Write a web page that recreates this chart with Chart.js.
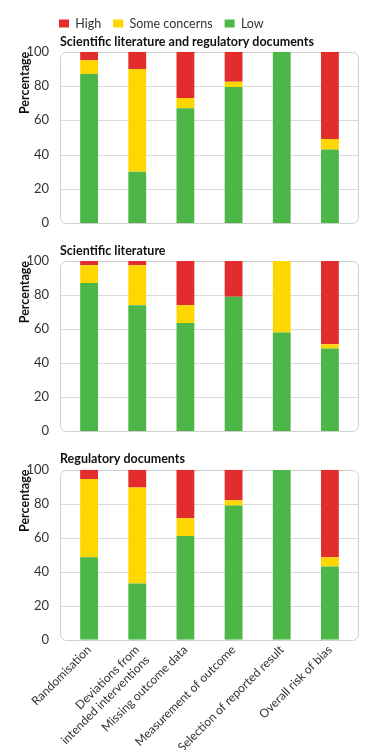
<!DOCTYPE html>
<html><head><meta charset="utf-8">
<script src="https://cdn.jsdelivr.net/npm/chart.js@4.4.1/dist/chart.umd.min.js"></script>
<style>
html,body{margin:0;padding:0;background:#fff;}
body{width:391px;height:750px;position:relative;overflow:hidden;}
.p{position:absolute;left:0;width:391px;}
</style></head><body>
<div class="p" style="top:0;height:240px"><canvas id="c1"></canvas></div>
<div class="p" style="top:232px;height:216px"><canvas id="c2"></canvas></div>
<div class="p" style="top:440px;height:310px"><canvas id="c3"></canvas></div>
<script>
const categories = ['Randomisation', ['Deviations from', 'intended interventions'], 'Missing outcome data', 'Measurement of outcome', 'Selection of reported result', 'Overall risk of bias'];
const seriesNames = ['Low', 'Some concerns', 'High'];
const seriesColors = ['#4cb748', '#fed700', '#e32c2c'];
const yTicks = [0, 20, 40, 60, 80, 100];
const panelTitles = ['Scientific literature and regulatory documents', 'Scientific literature', 'Regulatory documents'];

const combinedLow  = [87, 30, 67, 79.5, 100, 43];
const combinedSome = [8, 60, 6, 3, 0, 6];
const combinedHigh = [5, 10, 27, 17.5, 0, 51];

const literatureLow  = [87, 74, 63.5, 79, 58, 48.5];
const literatureSome = [10.5, 23.5, 10.5, 0, 42, 2.5];
const literatureHigh = [2.5, 2.5, 26, 21, 0, 49];

const regulatoryLow  = [48.5, 33, 61, 79, 100, 43];
const regulatorySome = [46, 56.5, 10.5, 3, 0, 5.5];
const regulatoryHigh = [5.5, 10.5, 28.5, 18, 0, 51.5];

const FONT = 'Lato, "Open Sans", sans-serif';
Chart.defaults.font.family = FONT;
Chart.defaults.color = '#333';

const framePlugin = {
  id: 'frame',
  beforeDatasetsDraw(chart) {
    const {ctx, chartArea: a, scales: {y}} = chart;
    const l = a.left - 5, r = a.right + 5;
    ctx.save();
    ctx.strokeStyle = '#dadada';
    ctx.lineWidth = 1;
    y.ticks.forEach(t => {
      if (t.value > 0 && t.value < 100) {
        const py = Math.round(y.getPixelForValue(t.value)) + 0.5;
        ctx.beginPath(); ctx.moveTo(l, py); ctx.lineTo(r, py); ctx.stroke();
      }
    });
    ctx.strokeStyle = '#cfcfcf';
    ctx.beginPath();
    ctx.roundRect(Math.round(l) + 0.5, Math.round(a.top) + 0.5, Math.round(r - l) - 1, Math.round(a.bottom - a.top), 6);
    ctx.stroke();
    ctx.restore();
  }
};

const placePlugin = {
  id: 'place',
  afterLayout(chart) {
    if (chart.legend && chart.options.plugins.legend.display) { chart.legend.left = 47; chart.legend.top = 5.3; }
    if (chart.titleBlock) { chart.titleBlock.left = 60; }
  }
};

function makeChart(id, low, some, high, title, opts) {
  const datasets = [low, some, high].map((d, i) => ({
    label: seriesNames[i],
    data: d,
    backgroundColor: seriesColors[i],
    borderWidth: 0,
    barPercentage: 0.37,
    categoryPercentage: 1
  }));
  return new Chart(document.getElementById(id), {
    type: 'bar',
    data: {labels: categories, datasets},
    options: {
      responsive: true,
      maintainAspectRatio: false,
      animation: false,
      layout: {padding: {left: 0, right: 37, top: 0, bottom: opts.bottom}},
      plugins: {
        legend: {
          display: opts.legend,
          position: 'top',
          align: 'start',
          reverse: true,
          weight: 3000,
          labels: {boxWidth: 10, boxHeight: 8, padding: 12, color: '#333', font: {size: 12.5, family: FONT}}
        },
        title: {
          display: true,
          text: title,
          align: 'start',
          color: '#111',
          font: {size: 12.5, weight: 'bold', family: FONT},
          padding: opts.titlePad
        },
        tooltip: {enabled: false}
      },
      scales: {
        x: {
          stacked: true,
          display: opts.xLabels,
          grid: {display: false, drawTicks: false},
          border: {display: false},
          ticks: {maxRotation: 45, minRotation: 45, autoSkip: false, padding: 3, color: '#333', font: {size: 12, family: FONT}},
          afterFit(scale) { if (opts.xLabels) scale.height = 110.3; }
        },
        y: {
          stacked: true,
          min: 0, max: 100,
          grid: {display: false},
          border: {display: false},
          afterBuildTicks(scale) { scale.ticks = yTicks.map(v => ({value: v})); },
          ticks: {padding: 8, color: '#333', font: {size: 13, family: FONT}},
          title: {display: true, text: 'Percentage', align: 'end', color: '#111', font: {size: 12.5, weight: 'bold', family: FONT}, padding: {top: 17, bottom: 0}},
          afterFit(scale) { scale.width = 65; }
        }
      }
    },
    plugins: [framePlugin, placePlugin]
  });
}

makeChart('c1', combinedLow, combinedSome, combinedHigh, panelTitles[0], {legend: true, xLabels: false, bottom: 17, titlePad: {top: 0, bottom: 2.3}});
makeChart('c2', literatureLow, literatureSome, literatureHigh, panelTitles[1], {legend: false, xLabels: false, bottom: 17, titlePad: {top: 11.5, bottom: 2.5}});
makeChart('c3', regulatoryLow, regulatorySome, regulatoryHigh, panelTitles[2], {legend: false, xLabels: true, bottom: 0, titlePad: {top: 11.8, bottom: 2.9}});
</script>
</body></html>
